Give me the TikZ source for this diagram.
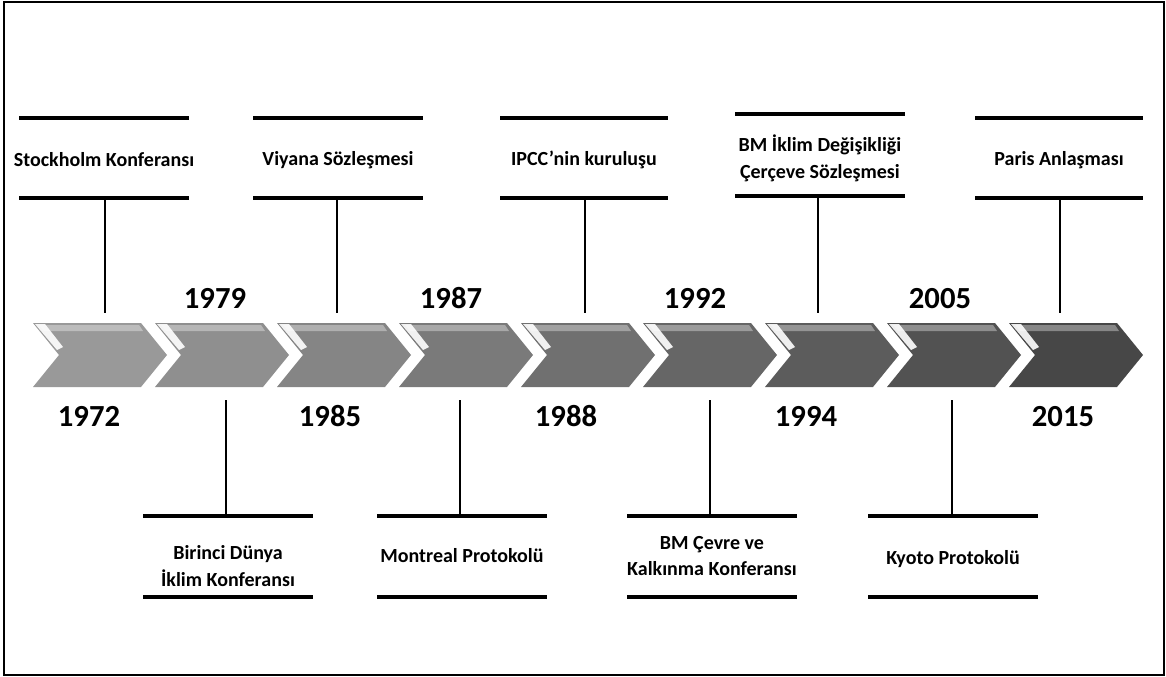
\documentclass[tikz,border=0pt]{standalone}
\usepackage{fontspec}
\setmainfont{Carlito}
\usepackage{xcolor}
\usepackage{tikz}

\tikzset{
  lbl/.style={font=\fontsize{15}{20}\selectfont\bfseries, align=center, inner sep=0.75pt},
  yr/.style={font=\fontsize{23}{26}\selectfont\bfseries, inner sep=0.75pt, anchor=base},
  bar/.style={line width=3pt},
  stem/.style={line width=2.2pt}
}

\begin{document}
\begin{tikzpicture}[x=0.75pt,y=0.75pt,yscale=-1,xscale=1]
\path (0,0) rectangle (1166,677); %set diagram to 1166 x 677

%Shape: Frame
\draw [line width=1.6pt] (4,2) rectangle (1164,675) ;

%Shape: Chevrons
\foreach \i in {0,...,8}{
  \pgfmathsetmacro{\xa}{33+122*\i}
  \pgfmathsetmacro{\sh}{40+4*\i}
  \fill [black!\sh] (\xa,323) -- (\xa+108,323) -- (\xa+134,355) -- (\xa+108,387) -- (\xa,387) -- (\xa+26,355) -- cycle ;
  \fill [white, opacity=0.35] (\xa+6,325) -- (\xa+106,325) -- (\xa+110,331) -- (\xa+11,331) -- cycle ;
  \fill [white, opacity=0.9] (\xa+2,324) -- (\xa+12,324) -- (\xa+30,347) -- (\xa+24,350) -- cycle ;
}

%Top labels
% Text Node
\node [lbl] (stockholm) at (104,160) {Stockholm Konferansı};
\node [lbl] (viyana) at (338,160) {Viyana Sözleşmesi};
\node [lbl] (ipcc) at (584,160) {IPCC’nin kuruluşu};
\node [lbl] (bmiklim) at (820,158) {BM İklim Değişikliği\\Çerçeve Sözleşmesi};
\node [lbl] (paris) at (1059,160) {Paris Anlaşması};

%Bottom labels
% Text Node
\node [lbl] (birinci) at (228,566) {Birinci Dünya\\İklim Konferansı};
\node [lbl] (montreal) at (462,556) {Montreal Protokolü};
\node [lbl] (bmcevre) at (712,556) {BM Çevre ve\\Kalkınma Konferansı};
\node [lbl] (kyoto) at (953,559) {Kyoto Protokolü};

%Years
% Text Node
\node [yr] (y1972) at (89,426) {1972};
\node [yr] (y1979) at (215,308) {1979};
\node [yr] (y1985) at (330,426) {1985};
\node [yr] (y1987) at (451,308) {1987};
\node [yr] (y1988) at (566,426) {1988};
\node [yr] (y1992) at (695,308) {1992};
\node [yr] (y1994) at (806,426) {1994};
\node [yr] (y2005) at (940,308) {2005};
\node [yr] (y2015) at (1063,426) {2015};

%Straight Lines: top boxes
\draw [bar] (19,118) -- (189,118) (19,198) -- (189,198) ;
\draw [bar] (253,118) -- (423,118) (253,198) -- (423,198) ;
\draw [bar] (500,118) -- (668,118) (500,198) -- (668,198) ;
\draw [bar] (735,114) -- (905,114) (735,196) -- (905,196) ;
\draw [bar] (975,118) -- (1143,118) (975,198) -- (1143,198) ;

%Straight Lines: bottom boxes
\draw [bar] (143,516) -- (313,516) (143,597) -- (313,597) ;
\draw [bar] (377,516) -- (547,516) (377,597) -- (547,597) ;
\draw [bar] (627,516) -- (797,516) (627,597) -- (797,597) ;
\draw [bar] (868,516) -- (1038,516) (868,597) -- (1038,597) ;

%Stems
\coordinate (t1) at (105,198); \coordinate (c1) at (105,313);
\coordinate (t2) at (337,198); \coordinate (c2) at (337,313);
\coordinate (t3) at (585,198); \coordinate (c3) at (585,313);
\coordinate (t4) at (818,196); \coordinate (c4) at (818,313);
\coordinate (t5) at (1060,198); \coordinate (c5) at (1060,313);
\coordinate (b1) at (226,516); \coordinate (d1) at (226,400);
\coordinate (b2) at (460,516); \coordinate (d2) at (460,400);
\coordinate (b3) at (710,516); \coordinate (d3) at (710,400);
\coordinate (b4) at (952,516); \coordinate (d4) at (952,400);
\foreach \a/\b in {t1/c1,t2/c2,t3/c3,t4/c4,t5/c5,b1/d1,b2/d2,b3/d3,b4/d4}
  \draw [stem] (\a) -- (\b) ;

\end{tikzpicture}
\end{document}
